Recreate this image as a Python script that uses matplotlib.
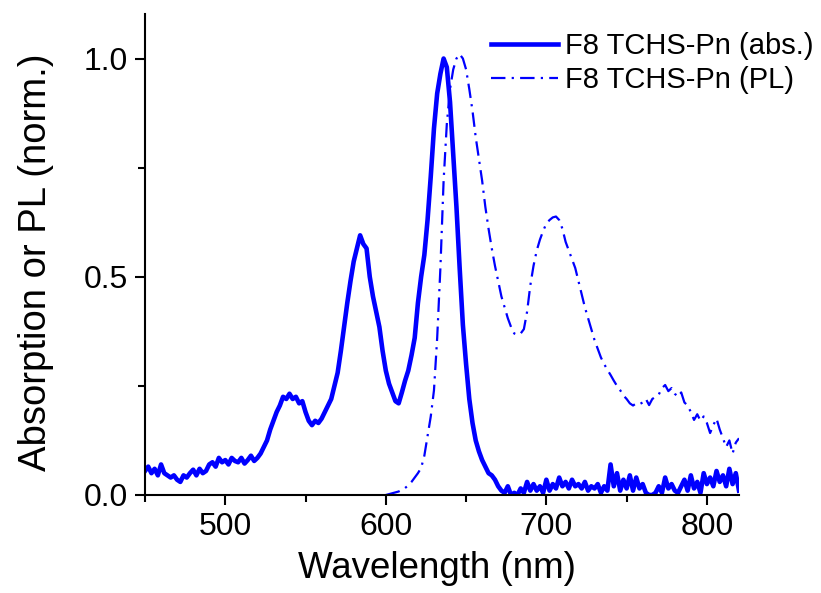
import numpy as np
import matplotlib
matplotlib.use("Agg")
import matplotlib.pyplot as plt

# ---------------- data ----------------
abs_wl_start, abs_wl_step = 450, 2
abs_values = [
    0.055, 0.065, 0.050, 0.060, 0.045, 0.070, 0.050, 0.045, 0.040, 0.045,   # 450-468
    0.035, 0.030, 0.045, 0.040, 0.050, 0.058, 0.045, 0.060, 0.050, 0.055,   # 470-488
    0.070, 0.075, 0.065, 0.085, 0.075, 0.080, 0.070, 0.085, 0.078, 0.075,   # 490-508
    0.085, 0.072, 0.080, 0.090, 0.078, 0.085, 0.095, 0.110, 0.125, 0.150,   # 510-528
    0.170, 0.190, 0.205, 0.225, 0.220, 0.232, 0.220, 0.225, 0.210, 0.215,   # 530-548
    0.190, 0.170, 0.160, 0.170, 0.165, 0.175, 0.190, 0.205, 0.220, 0.250,   # 550-568
    0.280, 0.330, 0.385, 0.440, 0.490, 0.535, 0.565, 0.595, 0.575, 0.565,   # 570-588
    0.500, 0.455, 0.420, 0.385, 0.330, 0.285, 0.255, 0.235, 0.215, 0.210,   # 590-608
    0.235, 0.262, 0.285, 0.320, 0.360, 0.440, 0.500, 0.550, 0.630, 0.730,   # 610-628
    0.840, 0.920, 0.965, 1.000, 0.980, 0.900, 0.780, 0.660, 0.520, 0.390,   # 630-648
    0.300, 0.220, 0.165, 0.125, 0.100, 0.080, 0.065, 0.050, 0.045, 0.035,   # 650-668
    0.020, 0.010, 0.005, 0.020, 0.000, 0.005, 0.000, 0.015, 0.005, 0.030,   # 670-688
    0.010, 0.025, 0.010, 0.020, 0.005, 0.035, 0.010, 0.025, 0.015, 0.040,   # 690-708
    0.020, 0.030, 0.015, 0.035, 0.020, 0.025, 0.015, 0.030, 0.010, 0.020,   # 710-728
    0.015, 0.025, 0.005, 0.020, 0.010, 0.070, 0.020, 0.050, 0.010, 0.035,   # 730-748
    0.015, 0.045, 0.010, 0.040, 0.015, 0.025, 0.005, 0.000, 0.000, 0.005,   # 750-768
    0.020, 0.005, 0.040, 0.015, 0.025, 0.010, 0.005, 0.020, 0.035, 0.010,   # 770-788
    0.045, 0.015, 0.030, 0.005, 0.050, 0.025, 0.040, 0.020, 0.055, 0.030,   # 790-808
    0.045, 0.020, 0.060, 0.025, 0.050, 0.010,                               # 810-820
]

pl_wl_start, pl_wl_step = 600, 2
pl_values = [
    0.000, 0.002, 0.004, 0.006, 0.008, 0.012, 0.016, 0.022, 0.030, 0.040,   # 600-618
    0.050, 0.062, 0.090, 0.135, 0.180, 0.240, 0.360, 0.520, 0.720, 0.850,   # 620-638
    0.930, 0.975, 1.000, 1.010, 1.000, 0.975, 0.930, 0.880, 0.820, 0.770,   # 640-658
    0.720, 0.660, 0.610, 0.565, 0.525, 0.490, 0.455, 0.430, 0.405, 0.385,   # 660-678
    0.370, 0.367, 0.370, 0.380, 0.420, 0.480, 0.525, 0.560, 0.585, 0.605,   # 680-698
    0.622, 0.630, 0.636, 0.638, 0.630, 0.610, 0.580, 0.560, 0.540, 0.520,   # 700-718
    0.490, 0.460, 0.430, 0.405, 0.380, 0.355, 0.335, 0.315, 0.300, 0.287,   # 720-738
    0.275, 0.262, 0.250, 0.240, 0.228, 0.220, 0.210, 0.205, 0.210, 0.208,   # 740-758
    0.212, 0.220, 0.206, 0.220, 0.225, 0.230, 0.245, 0.252, 0.238, 0.245,   # 760-778
    0.232, 0.225, 0.235, 0.212, 0.205, 0.190, 0.172, 0.185, 0.170, 0.180,   # 780-798
    0.165, 0.142, 0.160, 0.175, 0.150, 0.130, 0.110, 0.125, 0.095, 0.120,   # 800-818
    0.130,                                                                  # 820
]

abs_wl = abs_wl_start + abs_wl_step * np.arange(len(abs_values))
pl_wl = pl_wl_start + pl_wl_step * np.arange(len(pl_values))

labels = ["F8 TCHS-Pn (abs.)", "F8 TCHS-Pn (PL)"]
x_major = [500, 600, 700, 800]
x_minor = [450, 550, 650, 750]
y_major = [0.0, 0.5, 1.0]
y_minor = [0.25, 0.75]

# ---------------- figure ----------------
plt.rcParams['font.family'] = ['Liberation Sans', 'DejaVu Sans']
W, H = 821, 593
fig = plt.figure(figsize=(W / 100, H / 100), dpi=100)
ax = fig.add_axes([145 / W, 1 - 495 / H, (739 - 145) / W, (495 - 14) / H])

blue = '#0000FF'
ax.plot(abs_wl, abs_values, color=blue, lw=3.3, solid_joinstyle='round', label=labels[0])
ax.plot(pl_wl, pl_values, color=blue, lw=1.6, linestyle=(0, (6.5, 2.8, 1.0, 2.8)), label=labels[1])

ax.set_xlim(450, 820)
ax.set_ylim(0, 1.102)

ax.set_xticks(x_major)
ax.set_xticklabels([str(v) for v in x_major])
ax.set_xticks(x_minor, minor=True)
ax.set_yticks(y_major)
ax.set_yticklabels([f"{v:.1f}" for v in y_major])
ax.set_yticks(y_minor, minor=True)

for s in ['top', 'right']:
    ax.spines[s].set_visible(False)
for s in ['left', 'bottom']:
    ax.spines[s].set_linewidth(1.5)

ax.tick_params(which='major', direction='out', length=7.5, width=1.5, labelsize=23, pad=5)
ax.tick_params(which='minor', direction='out', length=5, width=1.5)

ax.set_xlabel("Wavelength (nm)", fontsize=26.5)
ax.set_ylabel("Absorption or PL (norm.)", fontsize=27.5)
ax.xaxis.set_label_coords((437 - 145) / 594, (495 - 551) / 481)
ax.yaxis.set_label_coords((54 - 145) / 594, (495 - 262) / 481)

ax.legend(loc='upper left', bbox_to_anchor=(491 / W, 1 - 32 / H), bbox_transform=fig.transFigure,
          frameon=False, fontsize=21, borderpad=0, borderaxespad=0, handlelength=2.3,
          handletextpad=0.25, labelspacing=0.2)

fig.savefig("out.png", dpi=100)
